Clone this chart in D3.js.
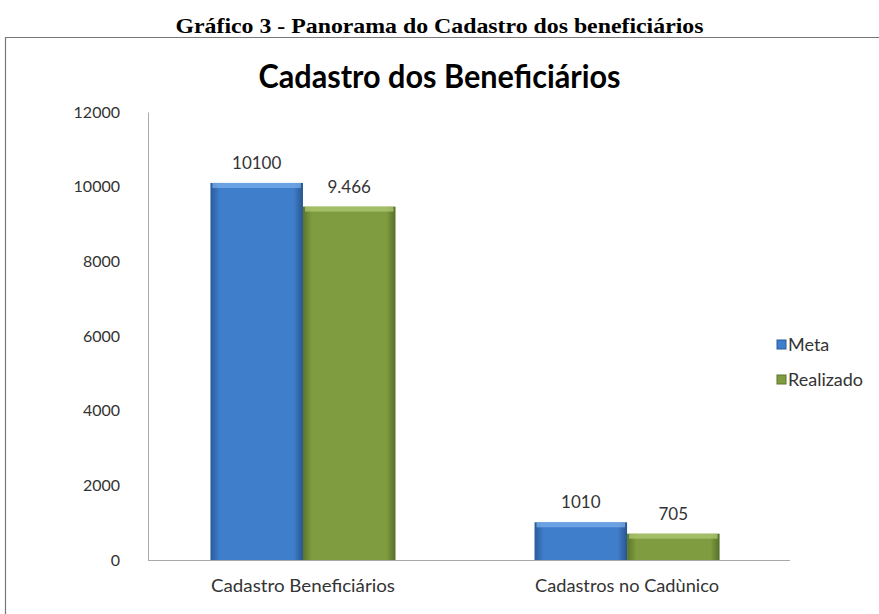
<!DOCTYPE html>
<html>
<head>
<meta charset="utf-8">
<script src="https://cdn.jsdelivr.net/npm/d3@7"></script>
<style>
  body { margin: 0; background: #fff; }
</style>
</head>
<body>
<div class="canvas"></div>
<script>
const categories = ['Cadastro Beneficiários', 'Cadastros no Cadùnico'];
const series = ['Meta', 'Realizado'];
const metaValues = [10100, 1010];
const realizadoValues = [9466, 705];
const valueLabels = [['10100', '1010'], ['9.466', '705']];
const yTicks = [0, 2000, 4000, 6000, 8000, 10000, 12000];

const width = 879, height = 614;
const margin = { top: 112, right: 89, bottom: 54, left: 148 };
const graphWidth = width - margin.left - margin.right;
const graphHeight = height - margin.top - margin.bottom;

const svg = d3.select('.canvas').append('svg')
    .attr('width', width)
    .attr('height', height);

// gradients for the bars
const defs = svg.append('defs');
const colors = { Meta: ['#2b5a9c', '#3f7ecb', '#28558f'], Realizado: ['#5a752a', '#7f9d40', '#55702a'] };
series.forEach(s => {
    const g = defs.append('linearGradient').attr('id', 'grad-' + s)
        .attr('x1', 0).attr('x2', 1).attr('y1', 0).attr('y2', 0);
    g.append('stop').attr('offset', '0%').attr('stop-color', colors[s][0]);
    g.append('stop').attr('offset', '10%').attr('stop-color', colors[s][1]);
    g.append('stop').attr('offset', '90%').attr('stop-color', colors[s][1]);
    g.append('stop').attr('offset', '100%').attr('stop-color', colors[s][2]);
});

// page heading + frame
svg.append('text')
    .attr('x', width / 2)
    .attr('y', 33)
    .attr('text-anchor', 'middle')
    .attr('font-family', 'Liberation Serif')
    .attr('font-weight', 'bold')
    .attr('font-size', 21)
    .attr('textLength', 528)
    .attr('lengthAdjust', 'spacingAndGlyphs')
    .text('Gráfico 3 - Panorama do Cadastro dos beneficiários');

svg.append('path')
    .attr('d', `M5.5,${height} V37.5 H${width}`)
    .attr('fill', 'none')
    .attr('stroke', '#777')
    .attr('stroke-width', 1.2);

// chart title
svg.append('text')
    .attr('x', width / 2)
    .attr('y', 88)
    .attr('text-anchor', 'middle')
    .attr('font-family', 'Lato')
    .attr('font-weight', 'bold')
    .attr('font-size', 32)
    .attr('textLength', 362)
    .attr('lengthAdjust', 'spacingAndGlyphs')
    .text('Cadastro dos Beneficiários');

const graph = svg.append('g')
    .attr('transform', `translate(${margin.left}, ${margin.top})`);

// Scales
const x0 = d3.scaleBand()
    .domain(categories)
    .range([0, graphWidth])
    .paddingInner(0.429)
    .paddingOuter(0.205)
    .align(0.47);

const x1 = d3.scaleBand()
    .domain(series)
    .range([0, x0.bandwidth()]);

const y = d3.scaleLinear()
    .domain([0, 12000])
    .range([graphHeight, 0]);

// Axis
const yAxis = d3.axisLeft(y).tickValues(yTicks).tickSize(0).tickPadding(28).tickFormat(d3.format('d'));
const yG = graph.append('g').call(yAxis);
yG.select('.domain').attr('stroke', '#aaa');
yG.selectAll('text')
    .attr('font-family', 'Lato')
    .attr('font-size', 16)
    .attr('fill', '#333');

graph.append('line')
    .attr('x1', 0).attr('x2', graphWidth)
    .attr('y1', graphHeight + 0.5).attr('y2', graphHeight + 0.5)
    .attr('stroke', '#aaa');

const xAxis = d3.axisBottom(x0).tickSize(0).tickPadding(20);
const xG = graph.append('g')
    .attr('transform', `translate(0, ${graphHeight})`)
    .call(xAxis);
xG.select('.domain').remove();
xG.selectAll('text')
    .attr('font-family', 'Lato')
    .attr('font-size', 17)
    .attr('fill', '#333')
    .attr('textLength', 184)
    .attr('lengthAdjust', 'spacingAndGlyphs');

// Bars
const rows = categories.map((c, i) => ({
    cat: c,
    vals: [
        { s: 'Meta', v: metaValues[i], label: valueLabels[0][i] },
        { s: 'Realizado', v: realizadoValues[i], label: valueLabels[1][i] }
    ]
}));

const groups = graph.selectAll('.group')
    .data(rows)
    .enter()
    .append('g')
    .attr('transform', d => `translate(${x0(d.cat)}, 0)`);

const bars = groups.selectAll('.bar')
    .data(d => d.vals)
    .enter()
    .append('g');

bars.append('rect')
    .attr('x', d => x1(d.s))
    .attr('y', d => y(d.v))
    .attr('width', x1.bandwidth())
    .attr('height', d => graphHeight - y(d.v))
    .attr('fill', d => `url(#grad-${d.s})`);

// lighter top bevel
bars.append('rect')
    .attr('x', d => x1(d.s) + 2)
    .attr('y', d => y(d.v))
    .attr('width', x1.bandwidth() - 4)
    .attr('height', 5)
    .attr('fill', d => d.s === 'Meta' ? '#7fb2ee' : '#b4cc78')
    .attr('opacity', 0.7);

bars.append('text')
    .attr('x', d => x1(d.s) + x1.bandwidth() / 2)
    .attr('y', d => y(d.v) - 14)
    .attr('text-anchor', 'middle')
    .attr('font-family', 'Lato')
    .attr('font-size', 17)
    .attr('fill', '#333')
    .text(d => d.label);

// Legend
const legend = svg.append('g')
    .attr('transform', 'translate(777, 345)');
series.forEach((s, i) => {
    const item = legend.append('g').attr('transform', `translate(0, ${i * 35})`);
    item.append('rect')
        .attr('x', 0).attr('y', -5)
        .attr('width', 9).attr('height', 9)
        .attr('fill', colors[s][1])
        .attr('stroke', colors[s][0]);
    item.append('text')
        .attr('x', 11)
        .attr('y', 6)
        .attr('font-family', 'Lato')
        .attr('font-size', 18)
        .attr('fill', '#333')
        .text(s);
});
</script>
</body>
</html>
